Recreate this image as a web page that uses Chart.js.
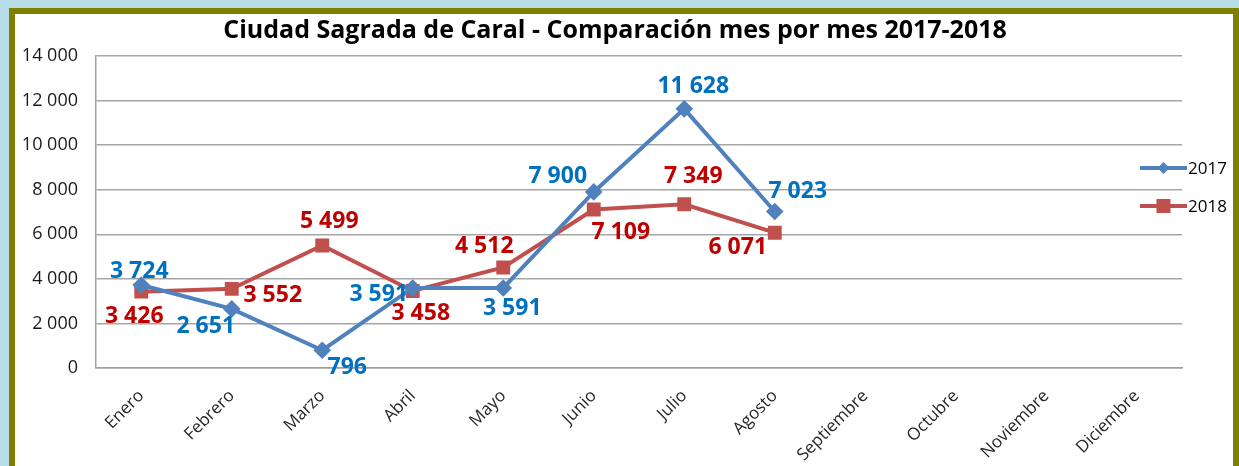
<!DOCTYPE html>
<html>
<head>
<meta charset="utf-8">
<script src="https://cdn.jsdelivr.net/npm/chart.js@4.4.1/dist/chart.umd.min.js"></script>
<style>
    body { margin: 0; background: #b7dde8; width: 1239px; height: 466px; overflow: hidden; }
    #box {
        position: absolute; left: 9px; top: 8px;
        width: 1218px; height: 470px;
        border: 6px solid #808000; background: #fff;
    }
</style>
</head>
<body>
<div id="box"><canvas id="myChart" width="1218" height="451"></canvas></div>
<script>
const meses = ['Enero', 'Febrero', 'Marzo', 'Abril', 'Mayo', 'Junio', 'Julio', 'Agosto',
    'Septiembre', 'Octubre', 'Noviembre', 'Diciembre'];
const data_2017 = [3724, 2651, 796, 3591, 3591, 7900, 11628, 7023, null, null, null, null];
const data_2018 = [3426, 3552, 5499, 3458, 4512, 7109, 7349, 6071, null, null, null, null];
const y_ticks = [0, 2000, 4000, 6000, 8000, 10000, 12000, 14000];

// where each value label sits relative to its point
const off_2017 = [[-2, -14], [-26, 18], [25, 17], [-34, 6], [9, 20], [-36, -15], [9, -22], [23, -20]];
const off_2018 = [[-7, 25], [41, 7], [7, -24], [8, 23], [-19, -21], [27, 23], [9, -28], [-37, 15]];

function fmt(v) {
    return String(v).replace(/\B(?=(\d{3})+(?!\d))/g, ' ');
}

const valueLabels = {
    id: 'valueLabels',
    afterDatasetsDraw(chart) {
        const ctx = chart.ctx;
        const offs = [off_2017, off_2018];
        const cols = ['#0070c0', '#c00000'];
        ctx.save();
        ctx.font = 'bold 23px "Open Sans"';
        ctx.textAlign = 'center';
        ctx.textBaseline = 'middle';
        chart.data.datasets.forEach((ds, d) => {
            const meta = chart.getDatasetMeta(d);
            ctx.fillStyle = cols[d];
            ds.data.forEach((v, i) => {
                if (v == null) return;
                const p = meta.data[i];
                ctx.fillText(fmt(v), p.x + offs[d][i][0], p.y + offs[d][i][1]);
            });
        });
        ctx.restore();
    }
};

const sideLegend = {
    id: 'sideLegend',
    afterDraw(chart) {
        const ctx = chart.ctx;
        ctx.save();
        chart.data.datasets.forEach((ds, d) => {
            const y = 154 + d * 38;
            const x0 = 1125, x1 = 1172;
            ctx.strokeStyle = ds.borderColor;
            ctx.lineWidth = 4;
            ctx.beginPath();
            ctx.moveTo(x0, y);
            ctx.lineTo(x1, y);
            ctx.stroke();
            ctx.fillStyle = ds.borderColor;
            const mx = (x0 + x1) / 2;
            if (d == 0) {
                ctx.beginPath();
                ctx.moveTo(mx, y - 6);
                ctx.lineTo(mx + 6, y);
                ctx.lineTo(mx, y + 6);
                ctx.lineTo(mx - 6, y);
                ctx.closePath();
                ctx.fill();
            } else {
                ctx.fillRect(mx - 7, y - 7, 14, 14);
            }
            ctx.fillStyle = '#000';
            ctx.font = '17px "Open Sans"';
            ctx.textBaseline = 'middle';
            ctx.fillText(ds.label, x1 + 1, y + 1);
        });
        ctx.restore();
    }
};

const ctx = document.getElementById('myChart');
new Chart(ctx, {
    type: 'line',
    data: {
        labels: meses,
        datasets: [{
            label: '2017',
            data: data_2017,
            borderColor: '#4f81bd',
            backgroundColor: '#4f81bd',
            borderWidth: 4,
            pointStyle: 'rectRot',
            pointRadius: 6,
            pointHoverRadius: 6,
            tension: 0
        }, {
            label: '2018',
            data: data_2018,
            borderColor: '#c0504d',
            backgroundColor: '#c0504d',
            borderWidth: 4,
            pointStyle: 'rect',
            pointRadius: 7,
            pointHoverRadius: 7,
            tension: 0
        }]
    },
    options: {
        responsive: false,
        animation: false,
        layout: { padding: { left: 0, right: 18, top: 0, bottom: 0 } },
        plugins: {
            legend: { display: false },
            tooltip: { enabled: false },
            title: {
                display: true,
                text: 'Ciudad Sagrada de Caral - Comparación mes por mes 2017-2018',
                color: '#000',
                font: { family: 'Open Sans', size: 25, weight: 'bold' },
                padding: { top: 2, bottom: 10 }
            }
        },
        scales: {
            x: {
                offset: true,
                grid: { display: false, drawTicks: false },
                border: { color: '#a0a0a0', width: 1.5 },
                ticks: {
                    color: '#262626',
                    font: { family: 'Open Sans', size: 17 },
                    maxRotation: 45,
                    minRotation: 45,
                    padding: 18,
                    autoSkip: false
                },
                afterFit(scale) { scale.height = 97; }
            },
            y: {
                min: 0,
                max: 14000,
                afterBuildTicks(scale) { scale.ticks = y_ticks.map(v => ({ value: v })); },
                grid: { color: '#a6a6a6', lineWidth: 1.5, drawTicks: false },
                border: { color: '#a0a0a0', width: 1.5 },
                ticks: {
                    color: '#1a1a1a',
                    font: { family: 'Open Sans', size: 18 },
                    padding: 18,
                    callback: v => fmt(v)
                },
                afterFit(scale) { scale.width = 81; }
            },
            // empty right axis, only keeps room for the legend
            yRight: {
                position: 'right',
                grid: { display: false, drawTicks: false },
                border: { display: false },
                ticks: { display: false },
                afterFit(scale) { scale.width = 33; }
            }
        }
    },
    plugins: [valueLabels, sideLegend]
});
</script>
</body>
</html>
